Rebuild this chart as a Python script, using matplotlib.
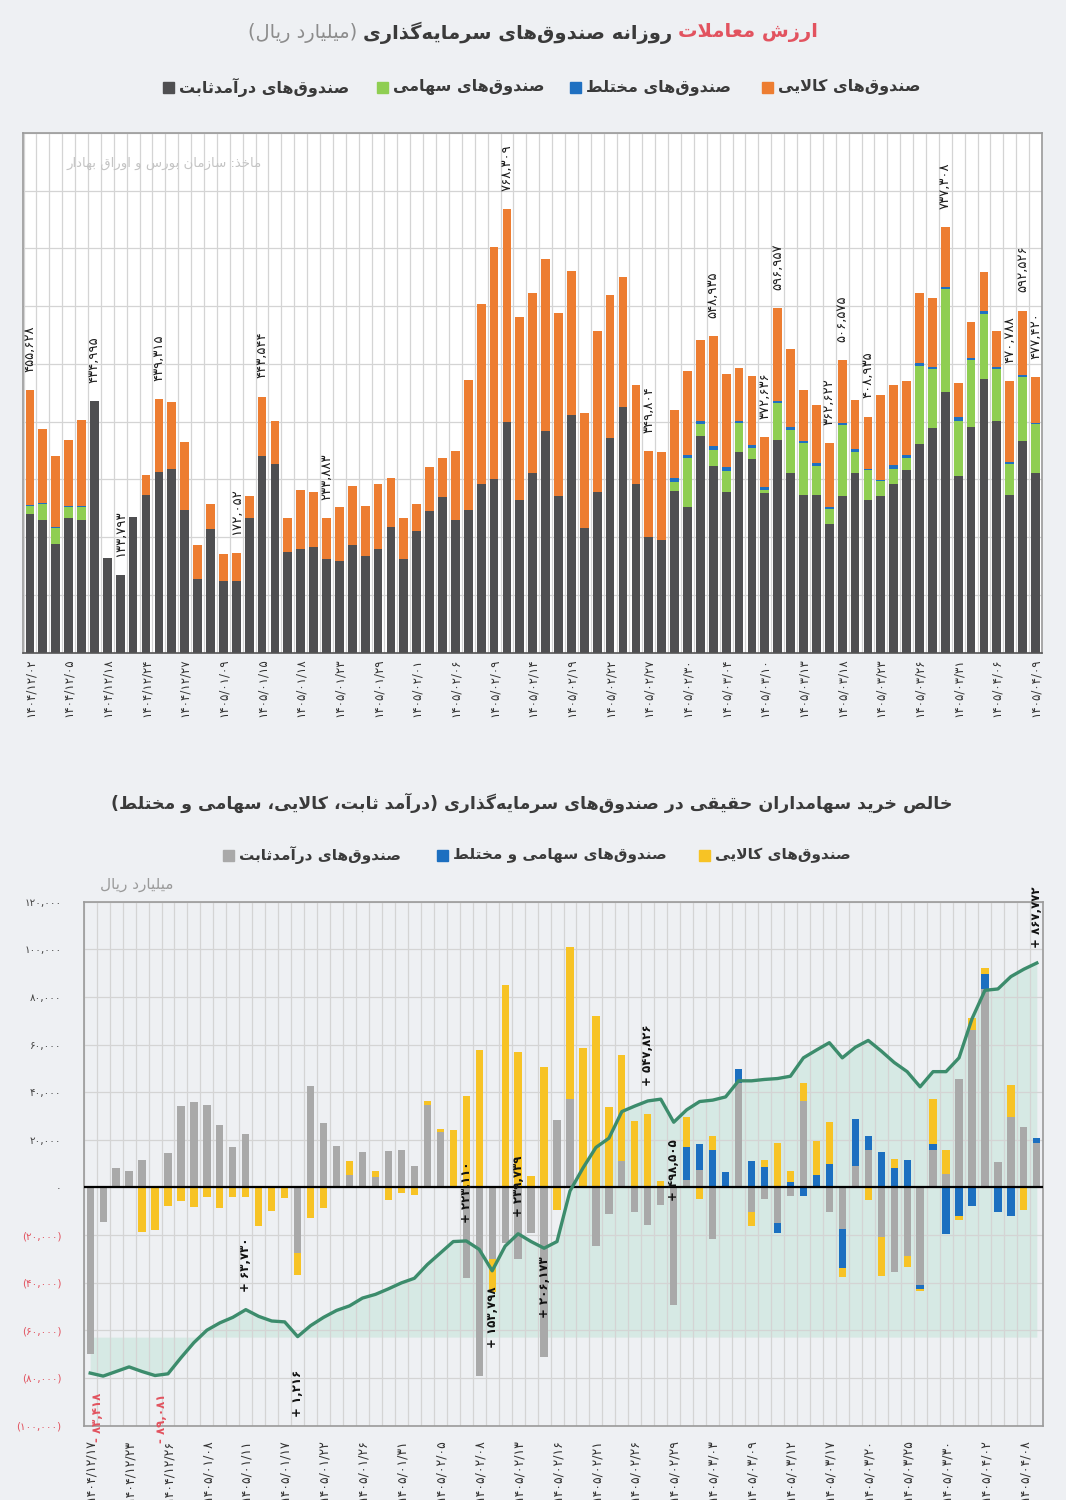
import re
import matplotlib
matplotlib.use('Agg')
import matplotlib.pyplot as plt
from matplotlib.patches import Rectangle
import numpy as np

plt.rcParams['font.family'] = ['DejaVu Sans']

# ---------- persian shaping (matplotlib has no bidi / joining) ----------
FORMS = {
    '\u0622': ('\uFE81', '\uFE82', None, None),
    '\u0627': ('\uFE8D', '\uFE8E', None, None),
    '\u0628': ('\uFE8F', '\uFE90', '\uFE91', '\uFE92'),
    '\u067E': ('\uFB56', '\uFB57', '\uFB58', '\uFB59'),
    '\u062A': ('\uFE95', '\uFE96', '\uFE97', '\uFE98'),
    '\u062B': ('\uFE99', '\uFE9A', '\uFE9B', '\uFE9C'),
    '\u062C': ('\uFE9D', '\uFE9E', '\uFE9F', '\uFEA0'),
    '\u0686': ('\uFB7A', '\uFB7B', '\uFB7C', '\uFB7D'),
    '\u062D': ('\uFEA1', '\uFEA2', '\uFEA3', '\uFEA4'),
    '\u062E': ('\uFEA5', '\uFEA6', '\uFEA7', '\uFEA8'),
    '\u062F': ('\uFEA9', '\uFEAA', None, None),
    '\u0630': ('\uFEAB', '\uFEAC', None, None),
    '\u0631': ('\uFEAD', '\uFEAE', None, None),
    '\u0632': ('\uFEAF', '\uFEB0', None, None),
    '\u0698': ('\uFB8A', '\uFB8B', None, None),
    '\u0633': ('\uFEB1', '\uFEB2', '\uFEB3', '\uFEB4'),
    '\u0634': ('\uFEB5', '\uFEB6', '\uFEB7', '\uFEB8'),
    '\u0635': ('\uFEB9', '\uFEBA', '\uFEBB', '\uFEBC'),
    '\u0636': ('\uFEBD', '\uFEBE', '\uFEBF', '\uFEC0'),
    '\u0637': ('\uFEC1', '\uFEC2', '\uFEC3', '\uFEC4'),
    '\u0638': ('\uFEC5', '\uFEC6', '\uFEC7', '\uFEC8'),
    '\u0639': ('\uFEC9', '\uFECA', '\uFECB', '\uFECC'),
    '\u063A': ('\uFECD', '\uFECE', '\uFECF', '\uFED0'),
    '\u0641': ('\uFED1', '\uFED2', '\uFED3', '\uFED4'),
    '\u0642': ('\uFED5', '\uFED6', '\uFED7', '\uFED8'),
    '\u06A9': ('\uFB8E', '\uFB8F', '\uFB90', '\uFB91'),
    '\u06AF': ('\uFB92', '\uFB93', '\uFB94', '\uFB95'),
    '\u0644': ('\uFEDD', '\uFEDE', '\uFEDF', '\uFEE0'),
    '\u0645': ('\uFEE1', '\uFEE2', '\uFEE3', '\uFEE4'),
    '\u0646': ('\uFEE5', '\uFEE6', '\uFEE7', '\uFEE8'),
    '\u0648': ('\uFEED', '\uFEEE', None, None),
    '\u0647': ('\uFEE9', '\uFEEA', '\uFEEB', '\uFEEC'),
    '\u06CC': ('\uFBFC', '\uFBFD', '\uFBFE', '\uFBFF'),
}
LAMALEF = {'\u0627': ('\uFEFB', '\uFEFC'), '\u0622': ('\uFEF5', '\uFEF6')}
DIGITS = re.compile(r'([0-9\u06F0-\u06F9][0-9\u06F0-\u06F9,./]*)')
MIRROR = {'(': ')', ')': '('}


def dual(c):
    return c in FORMS and FORMS[c][2] is not None


def shape(s):
    out = []
    i = 0
    while i < len(s):
        c = s[i]
        if c not in FORMS:
            if c != '\u200c':
                out.append(c)
            i += 1
            continue
        jp = i > 0 and dual(s[i - 1])
        if c == '\u0644' and i + 1 < len(s) and s[i + 1] in LAMALEF:
            out.append(LAMALEF[s[i + 1]][1 if jp else 0])
            i += 2
            continue
        jn = dual(c) and i + 1 < len(s) and s[i + 1] in FORMS
        f = FORMS[c]
        out.append(f[3] if jp and jn else f[1] if jp else f[2] if jn else f[0])
        i += 1
    return ''.join(out)


def fa(s):
    parts = DIGITS.split(shape(s))
    vis = [p if k % 2 else ''.join(MIRROR.get(ch, ch) for ch in reversed(p))
           for k, p in enumerate(parts)]
    return ''.join(reversed(vis))


# ---------- data: top chart (thousand billion rial) ----------
fixed_income = [240.6, 229.0, 188.5, 233.0, 229.0, 435.0, 163.7, 133.8, 234.2, 273.6,
                313.0, 318.7, 247.6, 127.8, 214.0, 124.8, 124.8, 233.0, 340.0, 326.9,
                173.4, 179.8, 182.8, 162.0, 159.5, 185.6, 167.7, 179.8, 217.5, 162.0,
                211.0, 245.8, 269.0, 229.0, 247.6, 292.2, 301.4, 399.1, 263.7, 311.3,
                383.5, 270.7, 410.7, 215.8, 278.3, 372.0, 425.8, 292.7, 200.2, 195.5,
                280.5, 251.6, 374.8, 324.0, 277.6, 347.0, 335.6, 276.5, 367.9, 311.3,
                273.6, 273.6, 222.0, 271.9, 311.3, 264.9, 270.7, 292.7, 317.0, 362.1,
                388.2, 451.9, 305.4, 390.4, 474.5, 400.9, 273.6, 366.1, 311.3]
equity = [12.7, 28.7, 27.5, 20.0, 24.0, 0, 0, 0, 0, 0,
          0, 0, 0, 0, 0, 0, 0, 0, 0, 0,
          0, 0, 0, 0, 0, 0, 0, 0, 0, 0,
          0, 0, 0, 0, 0, 0, 0, 0, 0, 0,
          0, 0, 0, 0, 0, 0, 0, 0, 0, 0,
          14.5, 85.7, 20.3, 26.5, 36.4, 51.0, 19.0, 5.8, 65.0, 75.0,
          89.7, 50.4, 26.0, 121.5, 35.7, 50.9, 26.0, 25.5, 20.3, 134.2,
          103.6, 177.6, 95.5, 116.3, 112.8, 90.9, 53.3, 111.8, 83.8]
mixed = [1.5, 1.5, 1.5, 1.5, 1.5, 0, 0, 0, 0, 0,
         0, 0, 0, 0, 0, 0, 0, 0, 0, 0,
         0, 0, 0, 0, 0, 0, 0, 0, 0, 0,
         0, 0, 0, 0, 0, 0, 0, 0, 0, 0,
         0, 0, 0, 0, 0, 0, 0, 0, 0, 0,
         7.6, 5.7, 5.8, 8.2, 7.0, 3.0, 5.7, 4.6, 2.8, 4.7,
         2.8, 4.6, 4.2, 4.6, 5.9, 2.4, 2.9, 7.5, 5.7, 4.7,
         3.5, 3.5, 7.6, 3.5, 4.5, 3.5, 3.5, 2.8, 2.9]
commodity = [200.8, 128.4, 123.8, 113.4, 148.1, 0, 0, 0, 0, 34.7,
             126.3, 115.1, 116.8, 59.0, 44.0, 46.4, 47.25, 37.7, 103.5, 74.0,
             59.6, 101.2, 95.5, 71.9, 92.1, 102.4, 85.6, 112.9, 85.1, 71.0,
             47.0, 75.9, 68.3, 121.0, 224.4, 311.2, 400.5, 369.2, 318.3, 312.4,
             298.1, 317.1, 249.5, 198.4, 278.8, 247.0, 225.0, 170.1, 149.6, 151.5,
             116.8, 144.6, 140.6, 190.2, 160.9, 92.5, 118.7, 85.7, 161.3, 134.3,
             88.6, 100.0, 110.4, 108.6, 84.4, 90.7, 145.9, 137.6, 127.3, 121.5,
             118.6, 104.3, 59.0, 63.2, 67.7, 61.8, 140.4, 111.8, 79.4]
top_dates = ['۱۴۰۴/۱۲/۰۲', '۱۴۰۴/۱۲/۰۵', '۱۴۰۴/۱۲/۱۸', '۱۴۰۴/۱۲/۲۴', '۱۴۰۴/۱۲/۲۷',
             '۱۴۰۵/۰۱/۰۹', '۱۴۰۵/۰۱/۱۵', '۱۴۰۵/۰۱/۱۸', '۱۴۰۵/۰۱/۲۳', '۱۴۰۵/۰۱/۲۹',
             '۱۴۰۵/۰۲/۰۱', '۱۴۰۵/۰۲/۰۶', '۱۴۰۵/۰۲/۰۹', '۱۴۰۵/۰۲/۱۴', '۱۴۰۵/۰۲/۱۹',
             '۱۴۰۵/۰۲/۲۲', '۱۴۰۵/۰۲/۲۷', '۱۴۰۵/۰۲/۳۰', '۱۴۰۵/۰۳/۰۴', '۱۴۰۵/۰۳/۱۰',
             '۱۴۰۵/۰۳/۱۳', '۱۴۰۵/۰۳/۱۸', '۱۴۰۵/۰۳/۲۳', '۱۴۰۵/۰۳/۲۶', '۱۴۰۵/۰۳/۳۱',
             '۱۴۰۵/۰۴/۰۶', '۱۴۰۵/۰۴/۰۹']
top_lab_idx = [0, 5, 7, 10, 16, 18, 23, 37, 48, 53, 57, 58, 62, 63, 65, 71, 76, 77, 78]
top_lab_txt = ['۴۵۵,۶۲۸', '۴۳۴,۹۹۵', '۱۳۳,۷۹۳', '۴۳۹,۳۱۵', '۱۷۲,۰۵۲', '۴۴۳,۵۴۴', '۲۳۳,۸۸۳',
               '۷۶۸,۳۰۹', '۳۴۹,۸۰۴', '۵۴۸,۹۳۵', '۳۷۲,۶۳۶', '۵۹۶,۹۵۷', '۳۶۲,۶۲۲', '۵۰۶,۵۷۵',
               '۴۰۸,۹۳۵', '۷۳۷,۳۰۸', '۴۷۰,۷۸۸', '۵۹۲,۵۲۶', '۴۷۷,۴۲۰']

# ---------- data: bottom chart (thousand billion rial, net retail buy) ----------
net_fixed = [-70.1, -14.5, 8.1, 7.1, 11.6, 0, 14.5, 34.4, 35.7, 34.7,
             26.1, 16.8, 22.6, 0, 0, 0, -27.6, 42.7, 27.0, 17.4,
             5.2, 14.9, 4.4, 15.4, 15.8, 9.1, 34.7, 23.2, 0, -38.0,
             -79.2, -29.9, -23.2, -29.9, -19.3, -71.4, 28.4, 37.1, 0, -24.7,
             -11.2, 11.0, -10.2, -15.6, -7.3, -49.4, 3.3, 7.5, -21.6, 0.8,
             43.8, -10.2, -4.8, -15.1, -3.5, 36.1, 0, -10.2, -17.4, 9.1,
             15.8, -20.9, -35.7, -29.0, -41.1, 15.8, 5.6, 45.4, 66.0, 83.4,
             10.6, 29.4, 25.5, 18.7]
net_equity_mixed = [0, 0, 0, 0, 0, 0, 0, 0, 0, 0,
                    0, 0, 0, 0, 0, 0, 0, 0, 0, 0,
                    0, 0, 0, 0, 0, 0, 0, 0, 0, 0,
                    0, 0, 0, 0, 0, 0, 0, 0, 0, 0,
                    0, 0, 0, 0, 0, 0, 13.5, 10.6, 15.8, 5.6,
                    5.8, 11.0, 8.7, -3.9, 2.3, -3.5, 5.2, 10.0, -16.4, 19.7,
                    5.8, 14.9, 8.1, 11.4, -1.5, 2.3, -19.5, -12.2, -7.9, 6.4,
                    -10.2, -12.2, 0, 1.9]
net_commodity = [0, 0, 0, 0, -18.7, -18.0, -7.7, -5.8, -8.3, -3.9,
                 -8.7, -3.9, -3.9, -16.0, -10.0, -4.4, -9.1, -12.9, -8.7, 0,
                 5.8, 0, 2.3, -5.2, -2.5, -3.3, 1.5, 1.4, 24.1, 38.2,
                 57.9, -14.0, 85.0, 57.0, 4.8, 50.6, -9.3, 63.7, 58.7, 71.8,
                 33.8, 44.8, 28.0, 30.9, 2.9, 0, 12.6, -4.8, 5.8, 0,
                 0, -5.8, 2.7, 18.7, 4.8, 7.7, 14.5, 17.4, -3.9, 0,
                 -5.4, -16.4, 3.9, -4.4, -1.0, 18.9, 10.2, -1.5, 5.2, 2.3,
                 0, 13.5, -9.3, 0]
cumulative = [-83.4, -90.4, -79.8, -69.1, -79.8, -89.1, -85.1, -47.8, -12.7, 16.1,
              33.1, 45.9, 63.7, 48.1, 37.4, 35.3, 1.2, 26.7, 45.9, 61.9,
              72.5, 90.6, 99.2, 112.0, 125.8, 136.5, 168.4, 195.0, 221.7, 223.1,
              203.5, 153.8, 211.1, 239.7, 221.7, 206.2, 221.7, 338.9, 392.2, 440.0,
              461.3, 523.2, 536.0, 547.8, 552.0, 498.5, 527.3, 546.5, 549.7, 557.2,
              594.5, 594.5, 597.7, 599.8, 605.2, 647.8, 665.8, 683.0, 647.8, 672.3,
              688.2, 663.7, 637.1, 615.8, 580.6, 615.8, 615.8, 647.8, 738.3, 804.4,
              807.6, 836.3, 853.4, 867.8]
bottom_dates = ['۱۴۰۴/۱۲/۱۷', '۱۴۰۴/۱۲/۲۳', '۱۴۰۴/۱۲/۲۶', '۱۴۰۵/۰۱/۰۸', '۱۴۰۵/۰۱/۱۱',
                '۱۴۰۵/۰۱/۱۷', '۱۴۰۵/۰۱/۲۲', '۱۴۰۵/۰۱/۲۶', '۱۴۰۵/۰۱/۳۱', '۱۴۰۵/۰۲/۰۵',
                '۱۴۰۵/۰۲/۰۸', '۱۴۰۵/۰۲/۱۳', '۱۴۰۵/۰۲/۱۶', '۱۴۰۵/۰۲/۲۱', '۱۴۰۵/۰۲/۲۶',
                '۱۴۰۵/۰۲/۲۹', '۱۴۰۵/۰۳/۰۳', '۱۴۰۵/۰۳/۰۹', '۱۴۰۵/۰۳/۱۲', '۱۴۰۵/۰۳/۱۷',
                '۱۴۰۵/۰۳/۲۰', '۱۴۰۵/۰۳/۲۵', '۱۴۰۵/۰۳/۳۰', '۱۴۰۵/۰۴/۰۲', '۱۴۰۵/۰۴/۰۸']
y_ticks = [-100, -80, -60, -40, -20, 0, 20, 40, 60, 80, 100, 120]
y_tick_txt = ['(۱۰۰,۰۰۰)', '(۸۰,۰۰۰)', '(۶۰,۰۰۰)', '(۴۰,۰۰۰)', '(۲۰,۰۰۰)', '۰',
              '۲۰,۰۰۰', '۴۰,۰۰۰', '۶۰,۰۰۰', '۸۰,۰۰۰', '۱۰۰,۰۰۰', '۱۲۰,۰۰۰']
ann_idx = [0, 5, 12, 16, 29, 31, 33, 35, 43, 45, 73]
ann_txt = ['- ۸۳,۴۱۸', '- ۸۹,۰۸۱', '+ ۶۳,۷۳۰', '+ ۱,۲۱۶', '+ ۲۲۳,۱۱۰', '+ ۱۵۳,۷۹۸',
           '+ ۲۳۹,۷۳۹', '+ ۲۰۶,۱۷۳', '+ ۵۴۷,۸۲۶', '+ ۴۹۸,۵۰۵', '+ ۸۶۷,۷۷۲']
ann_above = [False, False, True, False, True, False, True, False, True, False, True]
ann_gap = [14, 13, 13, 24, 13, 11, 12, 6, 11, 12, 11]

# ---------- colours ----------
BG = '#eef0f3'
C_DGRAY, C_GREEN, C_BLUE, C_ORANGE = '#4f4f51', '#8fce52', '#1f70c1', '#ed7d31'
C_YEL, C_BLU2, C_LGRAY = '#f7c325', '#1c6fc0', '#a9a9a9'
C_LINE, C_FILL = '#3c8c6c', '#cfe7df'
RED = '#e2535f'
GRID = '#d4d4d4'

W, H = 1066, 1500
fig = plt.figure(figsize=(W / 100, H / 100), dpi=100, facecolor=BG)


def fx(px):
    return px / W


def fy(py):
    return 1 - py / H


# ---------------- top chart ----------------
ax = fig.add_axes([fx(23), fy(652.6), fx(1019), 519.6 / H], facecolor='white')
x = np.arange(len(fixed_income))
fixed_income, equity, mixed, commodity = map(np.array, (fixed_income, equity, mixed, commodity))
bw = 0.68
ax.bar(x, fixed_income, bw, color=C_DGRAY, zorder=2)
ax.bar(x, equity, bw, bottom=fixed_income, color=C_GREEN, zorder=2)
ax.bar(x, mixed, bw, bottom=fixed_income + equity, color=C_BLUE, zorder=2)
total = fixed_income + equity + mixed + commodity
ax.bar(x, commodity, bw, bottom=fixed_income + equity + mixed, color=C_ORANGE, zorder=2)

for i, t in zip(top_lab_idx, top_lab_txt):
    ax.annotate(t, (i, total[i]), xytext=(0, 13), textcoords='offset points',
                rotation=90, ha='center', va='bottom', fontsize=9.5, color='#1e1e1e')

ax.set_xlim(-0.54, 78.39)
ax.set_ylim(0, 900)
ax.set_yticks(np.arange(0, 901, 100))
ax.set_yticklabels([])
ax.set_xticks(np.arange(0, 79, 3))
ax.set_xticklabels(top_dates, rotation=90, fontsize=8.5, color='#333333')
ax.set_xticks(np.arange(-0.5, 79, 1), minor=True)
ax.tick_params(which='both', length=0)
ax.tick_params(axis='x', pad=4)
ax.grid(axis='y', color=GRID, lw=0.9, zorder=0)
ax.grid(axis='x', which='minor', color=GRID, lw=0.9, zorder=0)
ax.set_axisbelow(True)
for s in ax.spines.values():
    s.set_color('#9a9a9a')
    s.set_linewidth(1.2)
ax.spines['bottom'].set_color('#555555')

fig.text(fx(262), fy(163), fa('ماخذ: سازمان بورس و اوراق بهادار'), ha='right',
         va='center', fontsize=9.5, color='#c4c4c4')

# title with three colours, laid out right to left
renderer = fig.canvas.get_renderer()


def rtl_row(pieces, xc, y, size, gap=6):
    ts = [fig.text(0, y, fa(txt), ha='left', va='center', fontsize=size,
                   color=col, fontweight=wt) for txt, col, wt in pieces]
    ws = [t.get_window_extent(renderer).width for t in ts]
    right = xc + (sum(ws) + gap * (len(ws) - 1)) / 2
    for t, w in zip(ts, ws):
        right -= w
        t.set_x(fx(right))
        right -= gap


rtl_row([('ارزش معاملات', RED, 'bold'),
         ('روزانه صندوق\u200cهای سرمایه\u200cگذاری', '#3a3a3a', 'bold'),
         ('(میلیارد ریال)', '#8c8c8c', 'normal')], 533, fy(33), 14)


def legend_item(color, label, xsq, y, size=11.5, sq=11):
    fig.add_artist(Rectangle((fx(xsq), fy(y + sq / 2)), fx(sq), sq / H,
                             transform=fig.transFigure, color=color))
    fig.text(fx(xsq + sq + 5), fy(y), fa(label), ha='left', va='center',
             fontsize=size, fontweight='bold', color='#3a3a3a')


legend_item(C_ORANGE, 'صندوق\u200cهای کالایی', 762, 87)
legend_item(C_BLUE, 'صندوق\u200cهای مختلط', 570, 87)
legend_item(C_GREEN, 'صندوق\u200cهای سهامی', 377, 87)
legend_item(C_DGRAY, 'صندوق\u200cهای درآمدثابت', 163, 87)

# ---------------- bottom chart ----------------
rect = [fx(83.7), fy(1425.5), fx(959.6), 523.8 / H]
axF = fig.add_axes(rect, facecolor='white', zorder=1)
axB = fig.add_axes(rect, facecolor='none', zorder=2)
axL = fig.add_axes(rect, facecolor='none', zorder=3)
xb = np.arange(len(cumulative))
sec_lim = (-205, 1010)

axF.fill_between(xb, cumulative, 0, color=C_FILL, alpha=0.75, lw=0)
axF.set_ylim(*sec_lim)
axF.axis('off')

pos_base = np.zeros(len(xb))
neg_base = np.zeros(len(xb))
for vals, col in ((net_fixed, C_LGRAY), (net_equity_mixed, C_BLU2), (net_commodity, C_YEL)):
    v = np.array(vals)
    pos = np.clip(v, 0, None)
    neg = np.clip(v, None, 0)
    axB.bar(xb, pos, 0.56, bottom=pos_base, color=col, zorder=2)
    axB.bar(xb, neg, 0.56, bottom=neg_base, color=col, zorder=2)
    pos_base += pos
    neg_base += neg
axB.axhline(0, color='black', lw=1.6, zorder=3)
axB.set_ylim(-100, 120)
axB.set_yticks(y_ticks)
axB.set_yticklabels(y_tick_txt, fontsize=7.5)
for lab, val in zip(axB.get_yticklabels(), y_ticks):
    lab.set_color(RED if val < 0 else '#444444')
axB.set_xticks(np.arange(0, 74, 3))
axB.set_xticklabels(bottom_dates, rotation=90, fontsize=9, color='#333333', va='top')
axB.set_xticks(np.arange(-0.5, 74, 1), minor=True)
axB.tick_params(which='both', length=0)
axB.tick_params(axis='y', pad=16)
axB.tick_params(axis='x', pad=10)
axB.grid(axis='y', color=GRID, lw=0.9, zorder=0)
axB.grid(axis='x', which='minor', color=GRID, lw=0.9, zorder=0)
axB.set_axisbelow(True)
for s in axB.spines.values():
    s.set_color('#9a9a9a')
    s.set_linewidth(1.2)

axL.plot(xb, cumulative, color=C_LINE, lw=2.4, zorder=4)
axL.set_ylim(*sec_lim)
axL.axis('off')
for i, t, up, g in zip(ann_idx, ann_txt, ann_above, ann_gap):
    col = RED if t.startswith('-') else '#111111'
    dx = 5 if t.startswith('-') else 0
    axL.annotate(t, (i, cumulative[i]), xytext=(dx, g if up else -g),
                 textcoords='offset points', rotation=90, ha='center',
                 va='bottom' if up else 'top', fontsize=8.5, fontweight='bold',
                 color=col, annotation_clip=False)

for a in (axF, axB, axL):
    a.set_xlim(-0.5, 73.5)

fig.text(0.4986, fy(803), fa('خالص خرید سهامداران حقیقی در صندوق\u200cهای سرمایه\u200cگذاری (درآمد ثابت، کالایی، سهامی و مختلط)'),
         ha='center', va='center', fontsize=12.5, fontweight='bold', color='#3a3a3a')
legend_item(C_YEL, 'صندوق\u200cهای کالایی', 699, 855, size=11)
legend_item(C_BLU2, 'صندوق\u200cهای سهامی و مختلط', 437, 855, size=11)
legend_item(C_LGRAY, 'صندوق\u200cهای درآمدثابت', 223, 855, size=11)
fig.text(fx(174), fy(884), fa('میلیارد ریال'), ha='right', va='center',
         fontsize=11, color='#9a9a9a')

fig.savefig('out.png', dpi=100, facecolor=BG)
